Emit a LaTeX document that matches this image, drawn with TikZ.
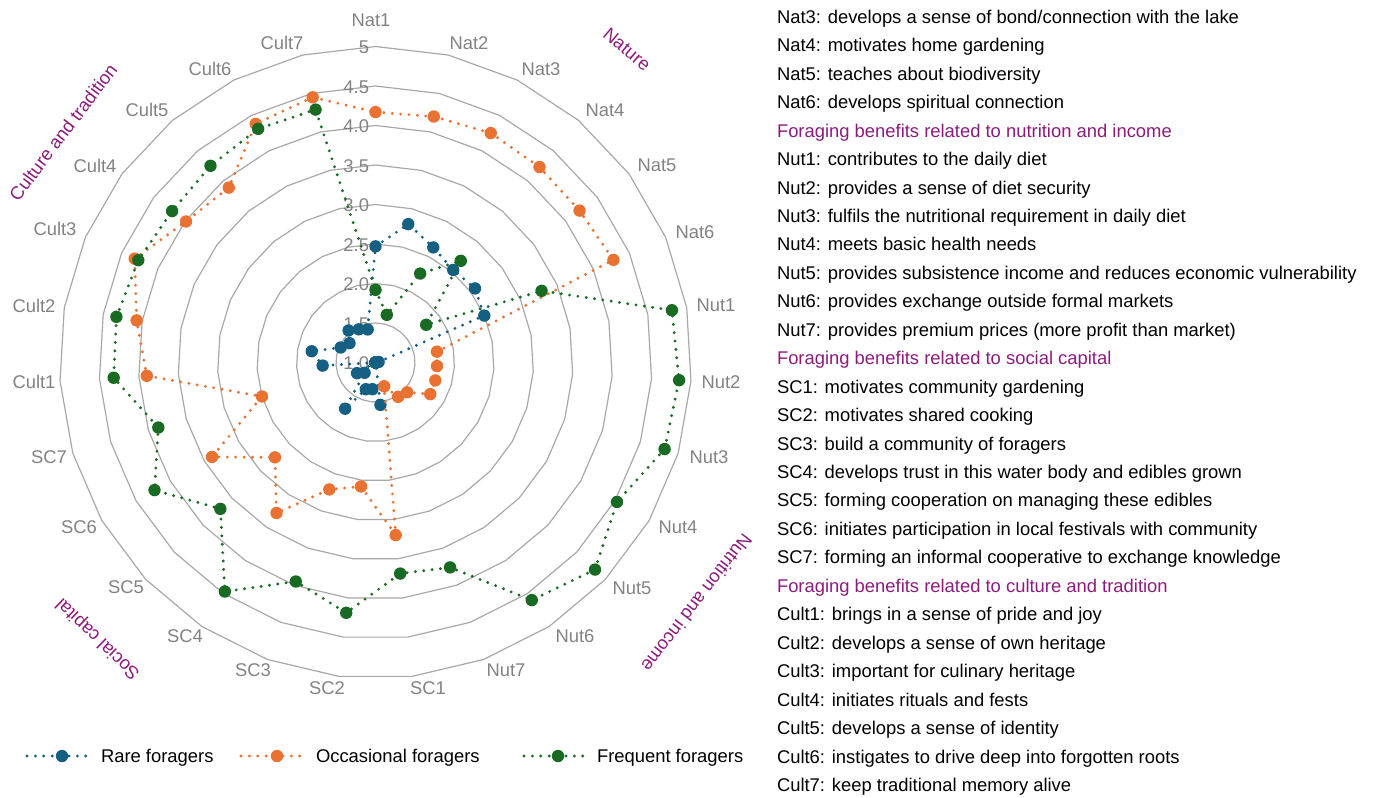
\documentclass[tikz,border=0pt]{standalone}
\usepackage{fontspec}
\setmainfont{Liberation Sans}
\usetikzlibrary{calc}
\definecolor{rareC}{HTML}{156082}
\definecolor{occC}{HTML}{E97132}
\definecolor{freqC}{HTML}{196B24}
\definecolor{gridC}{RGB}{168,168,168}
\definecolor{labC}{RGB}{130,130,130}
\definecolor{purp}{RGB}{140,28,124}
\newcommand{\myfs}{\fontsize{13.8pt}{16pt}\selectfont}
\begin{document}
\begin{tikzpicture}[x=0.75pt,y=-0.75pt,
  every node/.style={inner sep=0pt, outer sep=0pt, font=\myfs},
  axlab/.style={text=labC},
  vallab/.style={text=labC, anchor=east},
  grplab/.style={text=purp, text depth=0pt},
  txt/.style={anchor=base west},
  hd/.style={anchor=base west, text=purp},
  gridline/.style={draw=gridC, line width=0.9pt, line join=round},
  ser/.style={line width=2.4pt, dash pattern=on 0pt off 6.3pt, line cap=round},
  mk/.style={circle, minimum size=9.3pt, fill=#1, draw=none},
]
\useasboundingbox (0,0) rectangle (1376,797);

% concentric grid polygons
\begin{scope}[shift={(375.5,362.5)}]
\foreach \k in {1,...,8}{
  \draw[gridline] (-90:{39.5*\k}) \foreach \i in {1,...,26}{ -- ({\i*360/27-90}:{39.5*\k}) } -- cycle;
}
\end{scope}

% value labels
\node[vallab] (v10) at (369,363.5) {1.0};
\node[vallab] (v15) at (369,324) {1.5};
\node[vallab] (v20) at (369,284.5) {2.0};
\node[vallab] (v25) at (369,245) {2.5};
\node[vallab] (v30) at (369,205.5) {3.0};
\node[vallab] (v35) at (369,166) {3.5};
\node[vallab] (v40) at (369,126.5) {4.0};
\node[vallab] (v45) at (369,87) {4.5};
\node[vallab] (v50) at (369,47.5) {5};

% axis labels
\node[axlab] (aNat1) at (371,20) {Nat1};
\node[axlab] (aNat2) at (469,43) {Nat2};
\node[axlab] (aNat3) at (541,69) {Nat3};
\node[axlab] (aNat4) at (605,110) {Nat4};
\node[axlab] (aNat5) at (657,165) {Nat5};
\node[axlab] (aNat6) at (695,232) {Nat6};
\node[axlab] (aNut1) at (716,305) {Nut1};
\node[axlab] (aNut2) at (721,382) {Nut2};
\node[axlab] (aNut3) at (709,457) {Nut3};
\node[axlab] (aNut4) at (678,527) {Nut4};
\node[axlab] (aNut5) at (632,588) {Nut5};
\node[axlab] (aNut6) at (575,636) {Nut6};
\node[axlab] (aNut7) at (506,670) {Nut7};
\node[axlab] (aSC1) at (428,688) {SC1};
\node[axlab] (aSC2) at (327,688) {SC2};
\node[axlab] (aSC3) at (253,670) {SC3};
\node[axlab] (aSC4) at (185,636) {SC4};
\node[axlab] (aSC5) at (126,587) {SC5};
\node[axlab] (aSC6) at (79,527) {SC6};
\node[axlab] (aSC7) at (49,457) {SC7};
\node[axlab] (aCult1) at (34,382) {Cult1};
\node[axlab] (aCult2) at (34,306) {Cult2};
\node[axlab] (aCult3) at (55,229) {Cult3};
\node[axlab] (aCult4) at (95,166) {Cult4};
\node[axlab] (aCult5) at (147,110) {Cult5};
\node[axlab] (aCult6) at (210,69) {Cult6};
\node[axlab] (aCult7) at (282,43) {Cult7};

% group labels
\node[grplab, rotate=-40] (gNat) at (627,49) {Nature};
\node[grplab, rotate=53] (gCult) at (63,132) {Culture and tradition};
\node[grplab, rotate=-127.5] (gNut) at (697,603) {Nutrition and income};
\node[grplab, rotate=136] (gSC) at (97,640) {Social capital};

% data coordinates
\begin{scope}[shift={(375.5,362.5)}]
\foreach \v [count=\i from 0] in {2.47,2.80,2.63,2.53,2.57,2.50,1.04,1.0,1.0,1.0,1.0,1.0,1.0,1.54,1.34,1.36,1.70,1.19,1.27,1.0,1.67,1.82,1.48,1.41,1.53,1.47,1.43}
  {\coordinate (R\i) at ({\i*360/27-90}:{(\v-1)*79});}
\foreach \v [count=\i from 0] in {4.17,4.20,4.25,4.23,4.22,4.28,1.79,1.78,1.79,1.80,1.55,1.52,1.32,3.20,2.58,2.71,3.28,2.75,3.39,2.50,3.90,4.07,4.32,3.99,3.89,4.38,4.45}
  {\coordinate (O\i) at ({\i*360/27-90}:{(\v-1)*79});}
\foreach \v [count=\i from 0] in {1.92,1.62,2.26,2.68,1.80,3.29,4.81,4.85,4.82,4.53,4.82,4.60,3.76,3.69,4.19,3.95,4.47,3.70,4.23,3.87,4.32,4.33,4.27,4.21,4.25,4.31,4.29}
  {\coordinate (F\i) at ({\i*360/27-90}:{(\v-1)*79});}
\end{scope}

% series
\draw[ser, rareC] (R0) \foreach \i in {1,...,26}{ -- (R\i) } -- cycle;
\foreach \i in {0,...,26}{ \node[mk=rareC] (Rm\i) at (R\i) {}; }
\draw[ser, occC] (O0) \foreach \i in {1,...,26}{ -- (O\i) } -- cycle;
\foreach \i in {0,...,26}{ \node[mk=occC] (Om\i) at (O\i) {}; }
\draw[ser, freqC] (F0) \foreach \i in {1,...,26}{ -- (F\i) } -- cycle;
\foreach \i in {0,...,26}{ \node[mk=freqC] (Fm\i) at (F\i) {}; }

% legend
\coordinate (lgR1) at (27,756); \coordinate (lgR2) at (93,756);
\draw[ser, rareC] (lgR1) -- (lgR2);
\node[mk=rareC] (lgRm) at (62,756) {};
\node[txt] (lgRt) at (101,762.3) {Rare foragers};
\coordinate (lgO1) at (241,756); \coordinate (lgO2) at (308,756);
\draw[ser, occC] (lgO1) -- (lgO2);
\node[mk=occC] (lgOm) at (277,756) {};
\node[txt] (lgOt) at (316,762.3) {Occasional foragers};
\coordinate (lgF1) at (524,756); \coordinate (lgF2) at (590,756);
\draw[ser, freqC] (lgF1) -- (lgF2);
\node[mk=freqC] (lgFm) at (558,756) {};
\node[txt] (lgFt) at (597,762.3) {Frequent foragers};

% right column
\node[txt] (t1) at (777,23.3) {Nat3: develops a sense of bond/connection with the lake};
\node[txt] (t2) at (777,51.75) {Nat4: motivates home gardening};
\node[txt] (t3) at (777,80.2) {Nat5: teaches about biodiversity};
\node[txt] (t4) at (777,108.65) {Nat6: develops spiritual connection};
\node[hd] (t5) at (777,137.1) {Foraging benefits related to nutrition and income};
\node[txt] (t6) at (777,165.55) {Nut1: contributes to the daily diet};
\node[txt] (t7) at (777,194) {Nut2: provides a sense of diet security};
\node[txt] (t8) at (777,222.45) {Nut3: fulfils the nutritional requirement in daily diet};
\node[txt] (t9) at (777,250.9) {Nut4: meets basic health needs};
\node[txt] (t10) at (777,279.35) {Nut5: provides subsistence income and reduces economic vulnerability};
\node[txt] (t11) at (777,307.8) {Nut6: provides exchange outside formal markets};
\node[txt] (t12) at (777,336.25) {Nut7: provides premium prices (more profit than market)};
\node[hd] (t13) at (777,364.7) {Foraging benefits related to social capital};
\node[txt] (t14) at (777,393.15) {SC1: motivates community gardening};
\node[txt] (t15) at (777,421.6) {SC2: motivates shared cooking};
\node[txt] (t16) at (777,450.05) {SC3: build a community of foragers};
\node[txt] (t17) at (777,478.5) {SC4: develops trust in this water body and edibles grown};
\node[txt] (t18) at (777,506.95) {SC5: forming cooperation on managing these edibles};
\node[txt] (t19) at (777,535.4) {SC6: initiates participation in local festivals with community};
\node[txt] (t20) at (777,563.85) {SC7: forming an informal cooperative to exchange knowledge};
\node[hd] (t21) at (777,592.3) {Foraging benefits related to culture and tradition};
\node[txt] (t22) at (777,620.75) {Cult1: brings in a sense of pride and joy};
\node[txt] (t23) at (777,649.2) {Cult2: develops a sense of own heritage};
\node[txt] (t24) at (777,677.65) {Cult3: important for culinary heritage};
\node[txt] (t25) at (777,706.1) {Cult4: initiates rituals and fests};
\node[txt] (t26) at (777,734.55) {Cult5: develops a sense of identity};
\node[txt] (t27) at (777,763) {Cult6: instigates to drive deep into forgotten roots};
\node[txt] (t28) at (777,791.45) {Cult7: keep traditional memory alive};
\end{tikzpicture}
\end{document}
